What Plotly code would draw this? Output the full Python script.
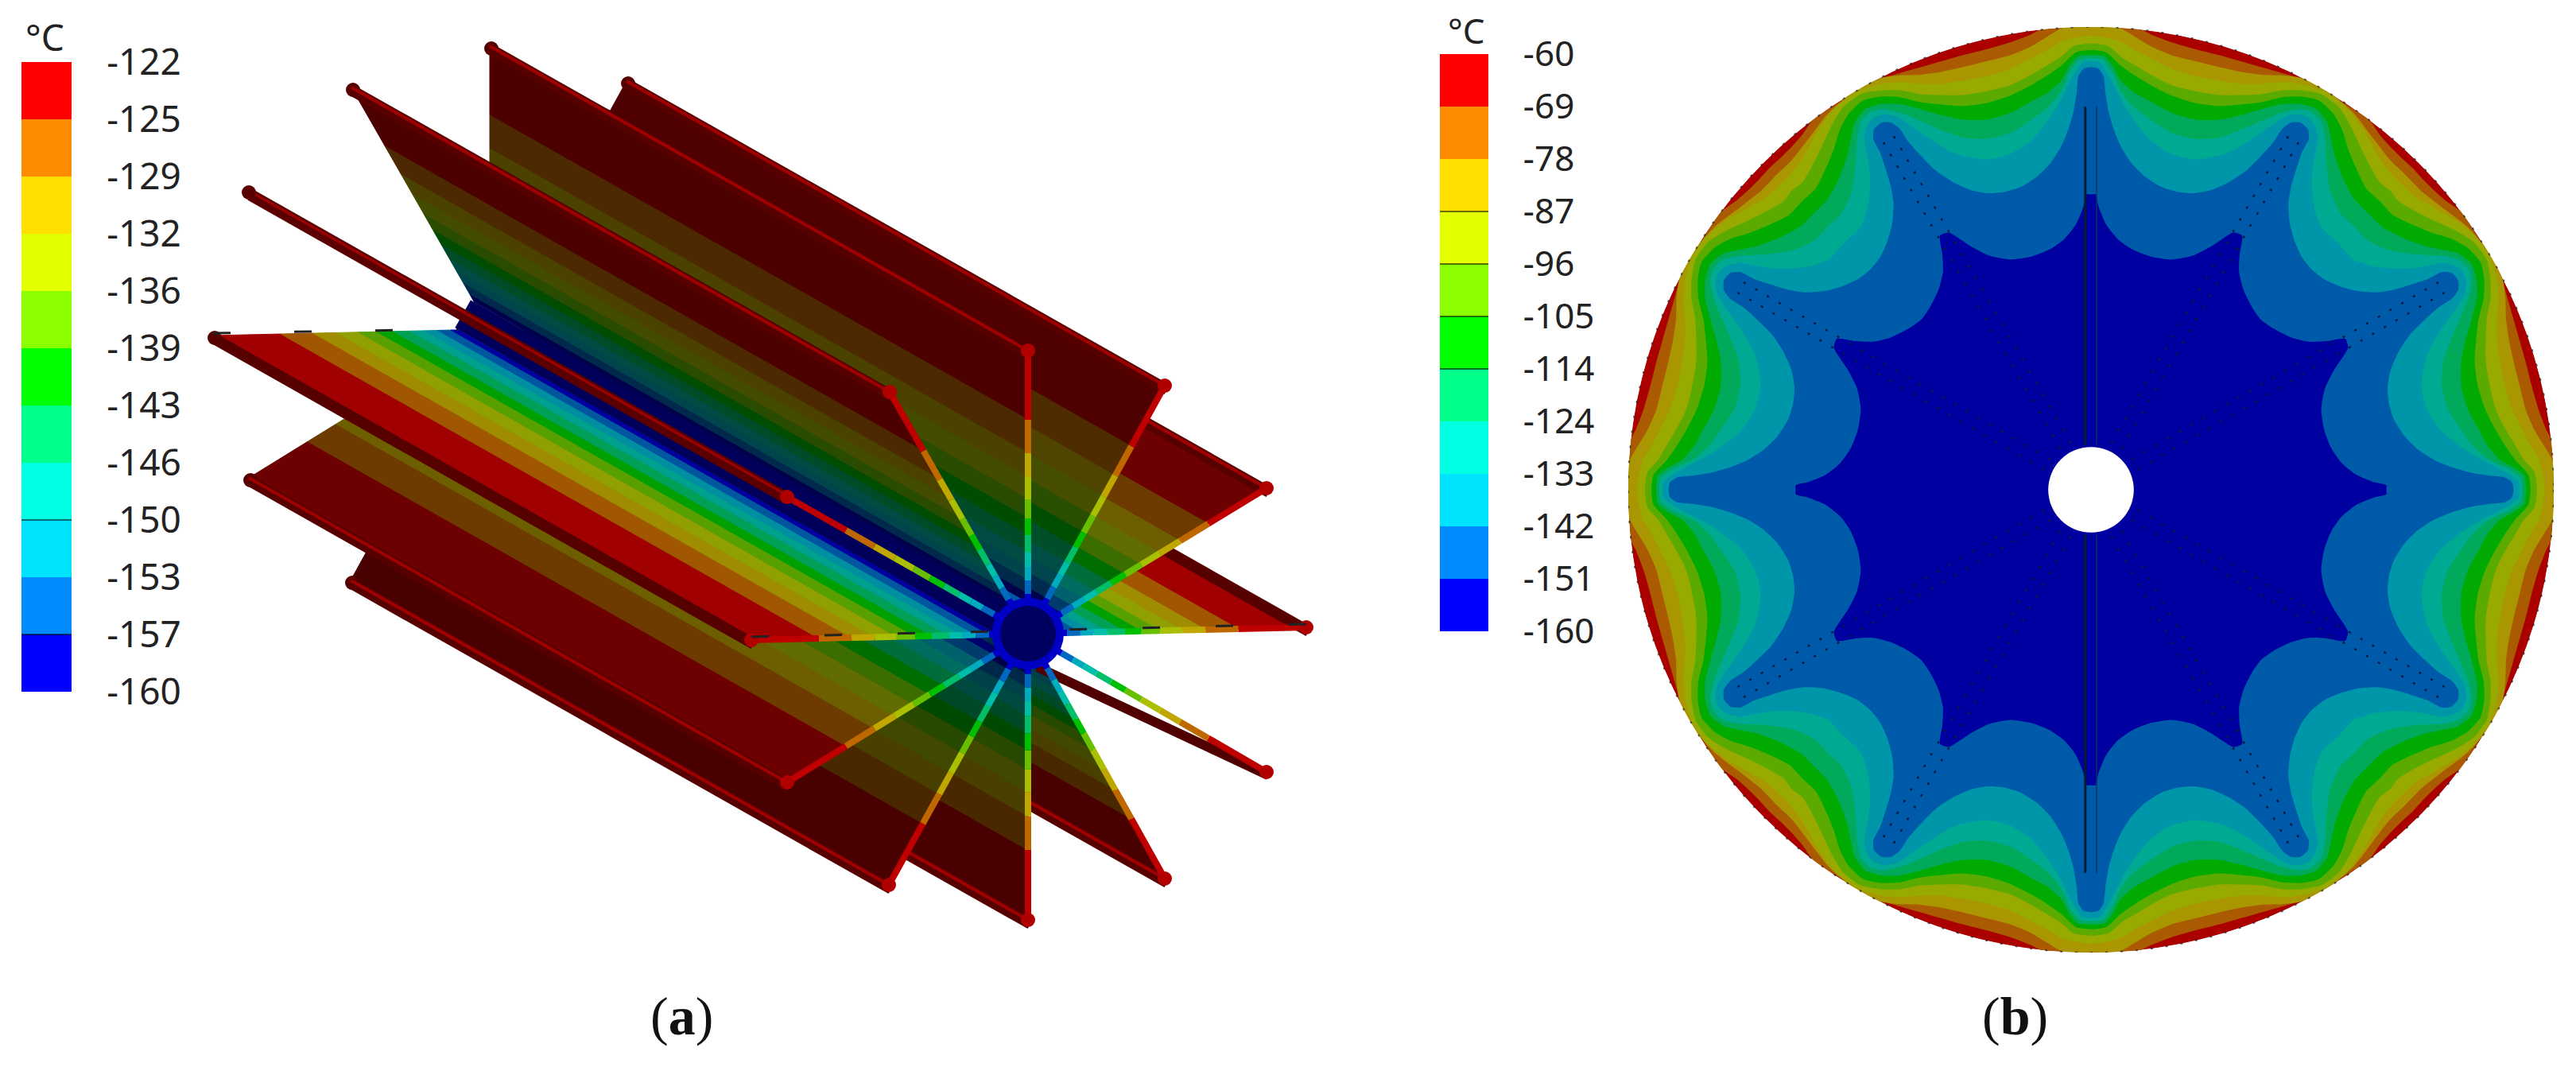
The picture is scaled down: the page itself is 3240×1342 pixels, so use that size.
import plotly.graph_objects as go

W, H = 3240, 1342
PAGE = 8  # the page body keeps this margin, the figure starts there
FIG_W, FIG_H = W - 2 * PAGE, H - 2 * PAGE

# colour bar values, top to bottom
labels_a = ['-122', '-125', '-129', '-132', '-136', '-139', '-143', '-146', '-150', '-153', '-157', '-160']
labels_b = ['-60', '-69', '-78', '-87', '-96', '-105', '-114', '-124', '-133', '-142', '-151', '-160']
band_colors = ['#ff0000', '#ff8b00', '#ffdf00', '#e3ff00', '#8bff00', '#00ff00',
               '#00ff8b', '#00ffe3', '#00e3ff', '#008bff', '#0000ff']
dark_ticks_a = ['-150', '-157']
dark_ticks_b = ['-87', '-96', '-105', '-114']

# (a) fins: front tip of each fin, its shade, in drawing order
fin_names = ['down_right', 'bottom', 'down_left', 'left_down', 'left',
             'right', 'right_up', 'up_right', 'top', 'up_left']
tip_x = dict(top=1293, up_right=1465, right_up=1593, right=1643, right_down=1593, down_right=1465,
             bottom=1293, down_left=1118, left_down=990, left=945, left_up=990, up_left=1119)
tip_y = dict(top=441, up_right=485, right_up=614, right=789, right_down=971, down_right=1105,
             bottom=1157, down_left=1113, left_down=984, left=805, left_up=625, up_left=493)
fin_shade = dict(down_right=.29, bottom=.29, down_left=.29, left_down=.43, left=.63,
                 right=.63, right_up=.43, up_right=.31, top=.30, up_left=.30)
no_stripe = ['left', 'right']
hub_x, hub_y = 1293, 797
depth_x, depth_y = -677, -383  # how far the fins run back
# distance from the hub where each colour starts, on the top fin (tip at 356)
band_start = [269, 227, 197, 169, 145, 124, 102, 84, 67, 50, 40]
band_end = [356, 269, 227, 197, 169, 145, 124, 102, 84, 67, 50]
fin_len = 356

# (b) contours in one 45 degree wedge: u across, v down, picture units, from the top fin to the diagonal
c1 = [(0, 570), (15, 570), (25, 610), (50, 670), (90, 720), (140, 755), (200, 778), (270, 788), (340, 775),
      (400, 745), (445, 715), (475, 698), (505, 708), (497, 770), (495, 830), (510, 890), (540, 950), (568, 989)]
c2 = [(0, 145), (25, 150), (42, 175), (48, 230), (58, 290), (75, 350), (100, 410), (135, 465), (180, 510),
      (235, 545), (290, 562), (345, 566), (400, 556), (460, 530), (520, 490), (570, 440), (610, 395), (640, 350),
      (668, 330), (700, 330), (725, 352), (728, 385), (705, 430), (685, 490), (670, 540), (660, 600), (665, 670),
      (682, 730), (705, 780), (737, 820)]
c3 = [(0, 125), (28, 128), (55, 165), (80, 210), (110, 270), (150, 330), (200, 390), (270, 435), (350, 453),
      (440, 438), (500, 410), (560, 370), (610, 335), (650, 310), (690, 302), (725, 312), (750, 345), (758, 385),
      (748, 440), (740, 500), (740, 560), (748, 620), (770, 680), (825, 732)]
c4 = [(0, 114), (40, 120), (70, 160), (100, 225), (140, 275), (200, 320), (270, 365), (350, 385), (430, 380),
      (500, 355), (570, 325), (630, 300), (690, 285), (735, 293), (768, 325), (782, 380), (785, 440), (790, 500),
      (800, 560), (835, 635), (880, 677)]
c5 = [(0, 104), (45, 108), (75, 145), (100, 190), (145, 230), (200, 260), (270, 298), (350, 320), (430, 320),
      (500, 305), (570, 285), (640, 268), (700, 268), (755, 285), (790, 330), (802, 380), (815, 440), (840, 510),
      (880, 585), (925, 632)]
c6 = [(0, 88), (50, 95), (100, 140), (150, 175), (200, 205), (270, 240), (350, 265), (430, 275), (500, 270),
      (570, 262), (640, 245), (700, 243), (760, 255), (810, 300), (840, 355), (860, 420), (885, 480), (920, 550),
      (965, 592)]
c7 = [(0, 66), (60, 75), (100, 110), (150, 140), (200, 170), (270, 205), (350, 225), (430, 238), (500, 238),
      (570, 235), (640, 222), (700, 222), (770, 235), (830, 280), (870, 345), (900, 410), (935, 480), (965, 530),
      (1000, 557)]
c8 = [(0, 40), (60, 48), (100, 60), (150, 90), (200, 115), (270, 150), (350, 175), (430, 190), (500, 200),
      (570, 200), (640, 195), (700, 200), (780, 225), (850, 275), (905, 345), (945, 415), (985, 480), (1030, 527)]
c9 = [(0, 11), (95, 14), (150, 45), (200, 75), (270, 105), (350, 125), (430, 145), (500, 160), (570, 170),
      (640, 172), (700, 180), (745, 200), (816, 243), (880, 300), (945, 385), (1000, 455), (1052, 505)]
c10 = [(0, 11), (100, 14), (170, 20), (200, 35), (270, 62), (350, 85), (430, 105), (500, 125), (570, 145),
       (640, 165), (730, 193), (830, 255), (930, 321), (965, 370), (1000, 410), (1040, 450), (1075, 482)]
contours = [c10, c9, c8, c7, c6, c5, c4, c3, c2, c1]
contour_colors = ['#aa5a00', '#aa9600', '#98aa00', '#5aaa00', '#00aa00', '#00aa5a', '#00aa92', '#0096aa', '#005aaa', '#0000a0']
v_center = 1557.6
rim = 1547  # picture units
fin_angles = [30, 60, 120, 150, 210, 240, 300, 330]


def shade(col, f):
    r, g, b = int(col[1:3], 16), int(col[3:5], 16), int(col[5:7], 16)
    return 'rgb(%d,%d,%d)' % (r * f, g * f, b * f)


def full_loop(pts):
    # wedge -> quarter -> whole curve, the field repeats by mirror
    q = [(u, v_center - v) for u, v in pts]
    q = q + [(y, x) for x, y in q[::-1][1:]]
    loop = q + [(x, -y) for x, y in q[::-1]] + [(-x, -y) for x, y in q] + [(-x, y) for x, y in q[::-1]]
    return [p[0] for p in loop], [p[1] for p in loop]


def dom_x(x0, x1):
    return [(x0 - PAGE) / FIG_W, (x1 - PAGE) / FIG_W]


def dom_y(y0, y1):
    return [1 - (y1 - PAGE) / FIG_H, 1 - (y0 - PAGE) / FIG_H]


fig = go.Figure()

# (a) fin faces, back to front
for name in fin_names:
    tx, ty = tip_x[name] - hub_x, tip_y[name] - hub_y
    for col, r0, r1 in zip(band_colors, band_start, band_end):
        f0, f1 = r0 / fin_len, r1 / fin_len
        ax, ay = hub_x + f0 * tx, hub_y + f0 * ty
        bx, by = hub_x + f1 * tx, hub_y + f1 * ty
        c = shade(col, fin_shade[name])
        fig.add_trace(go.Scatter(x=[ax, bx, bx + depth_x, ax + depth_x, ax],
                                 y=[ay, by, by + depth_y, ay + depth_y, ay],
                                 mode='lines', fill='toself', fillcolor=c, line=dict(color=c, width=1)))
    # the bead along the outer edge
    ex, ey = tip_x[name], tip_y[name]
    fig.add_trace(go.Scatter(x=[ex + 3, ex + depth_x + 3], y=[ey + 5, ey + depth_y + 5], mode='lines',
                             line=dict(color='#560000', width=14)))
    fig.add_trace(go.Scatter(x=[ex + depth_x + 2], y=[ey + depth_y + 3], mode='markers',
                             marker=dict(color='#560000', size=18)))
    if name not in no_stripe:
        fig.add_trace(go.Scatter(x=[ex, ex + depth_x], y=[ey, ey + depth_y], mode='lines',
                                 line=dict(color='#a00000', width=4)))

# black dashes on the back edge of the left fin
fig.add_trace(go.Scatter(x=[tip_x['left'] + depth_x, hub_x + depth_x - 40],
                         y=[tip_y['left'] + depth_y - 3, hub_y + depth_y],
                         mode='lines', line=dict(color='#222222', width=3, dash='22px,80px')))

# hub running back, then the edge-on fin
fig.add_trace(go.Scatter(x=[hub_x, hub_x + 1.05 * depth_x], y=[hub_y, hub_y + 1.05 * depth_y], mode='lines',
                         line=dict(color='#00005a', width=40)))
lx, ly = tip_x['left_up'], tip_y['left_up']
fig.add_trace(go.Scatter(x=[lx + 2, lx + depth_x + 2], y=[ly + 3, ly + depth_y + 3], mode='lines',
                         line=dict(color='#5a0000', width=15)))
fig.add_trace(go.Scatter(x=[lx, lx + depth_x], y=[ly - 2, ly + depth_y - 2], mode='lines',
                         line=dict(color='#a00000', width=3)))
fig.add_trace(go.Scatter(x=[lx + depth_x], y=[ly + depth_y], mode='markers', marker=dict(color='#5a0000', size=18)))
rx, ry = tip_x['right_down'], tip_y['right_down']
fig.add_trace(go.Scatter(x=[hub_x + 12, rx + 2], y=[hub_y + 42, ry + 4], mode='lines',
                         line=dict(color='#500000', width=12)))

# front face spokes
for name in tip_x:
    tx, ty = tip_x[name] - hub_x, tip_y[name] - hub_y
    for col, r0, r1 in zip(band_colors, band_start, band_end):
        f0, f1 = r0 / fin_len, r1 / fin_len
        if col == '#0000ff':
            c = shade(col, .8)
        else:
            c = shade(col, .75)
        fig.add_trace(go.Scatter(x=[hub_x + f0 * tx, hub_x + f1 * tx], y=[hub_y + f0 * ty, hub_y + f1 * ty],
                                 mode='lines', line=dict(color=c, width=8)))
    fig.add_trace(go.Scatter(x=[tip_x[name]], y=[tip_y[name]], mode='markers',
                             marker=dict(color='#b00000', size=18)))

for name in ['left', 'right']:
    fig.add_trace(go.Scatter(x=[tip_x[name], hub_x], y=[tip_y[name] - 4, hub_y - 4], mode='lines',
                             line=dict(color='#222222', width=3, dash='22px,70px')))

fig.add_trace(go.Scatter(x=[hub_x], y=[hub_y], mode='markers', marker=dict(color='#0000c4', size=90)))
fig.add_trace(go.Scatter(x=[hub_x], y=[hub_y], mode='markers', marker=dict(color='#000060', size=70)))

# (b) temperature field, outermost band first
for pts, col in zip(contours, contour_colors):
    xs, ys = full_loop(pts)
    fig.add_trace(go.Scatter(x=xs, y=ys, xaxis='x4', yaxis='y4', mode='lines', fill='toself', fillcolor=col,
                             line=dict(color=col, width=0, shape='spline', smoothing=0.6)))

# fin outlines inside the field, dotted
for a in fin_angles:
    sx, sy = {30: .5, 60: .866, 120: .866, 150: .5, 210: -.5, 240: -.866, 300: -.866, 330: -.5}[a], \
             {30: .866, 60: .5, 120: -.5, 150: -.866, 210: -.866, 240: -.5, 300: .5, 330: .866}[a]
    for off in [-20, 20]:
        fig.add_trace(go.Scatter(x=[170 * sx + off * sy, 1370 * sx + off * sy],
                                 y=[170 * sy - off * sx, 1370 * sy - off * sx],
                                 xaxis='x4', yaxis='y4', mode='lines',
                                 line=dict(color='#0a1a40', width=2.5, dash='3px,14px')))
for y0, y1 in [(150, 1280), (-150, -1280)]:
    fig.add_trace(go.Scatter(x=[-19, -19], y=[y0, y1], xaxis='x4', yaxis='y4', mode='lines',
                             line=dict(color='#0a1a30', width=3)))
    fig.add_trace(go.Scatter(x=[19, 19], y=[y0, y1], xaxis='x4', yaxis='y4', mode='lines',
                             line=dict(color='#0a3060', width=1.5)))

# colour bars as stacked bars on their own axes
for labels, dark, xa, ya in [(labels_a, dark_ticks_a, 'x2', 'y2'), (labels_b, dark_ticks_b, 'x3', 'y3')]:
    n = len(band_colors)
    fig.add_trace(go.Bar(x=[0] * n, y=[1] * n, base=list(range(n)), width=1, marker=dict(color=band_colors[::-1], line=dict(width=0)),
                         xaxis=xa, yaxis=ya))
    for lab in dark:
        k = labels[::-1].index(lab)
        fig.add_trace(go.Scatter(x=[-.5, .5], y=[k, k], mode='lines', xaxis=xa, yaxis=ya,
                                 line=dict(color='rgba(0,0,0,.55)', width=2)))


def bar_axes(x0, x1, y0, y1, labels, size, gap):
    xax = dict(domain=dom_x(x0, x1), range=[-.5, .5], visible=False, fixedrange=True, automargin=False)
    yax = dict(domain=dom_y(y0, y1), range=[0, 11], side='right', showgrid=False, zeroline=False,
               showline=False, tickvals=list(range(12)), ticktext=labels[::-1], ticks='outside', ticklen=gap,
               tickcolor='rgba(0,0,0,0)', automargin=False,
               tickfont=dict(family='Noto Sans', size=size, color='#222222'))
    return xax, yax


xa2, ya2 = bar_axes(27, 90, 78, 870, labels_a, 46, 34)
xa3, ya3 = bar_axes(1811, 1872, 68, 794, labels_b, 44, 34)
xa2['anchor'] = 'y2'
ya2['anchor'] = 'x2'
xa3['anchor'] = 'y3'
ya3['anchor'] = 'x3'

cx, cy, R = 2630, 616, 582
text_style = dict(showarrow=False, xref='x', yref='y')
fig.update_layout(
    width=FIG_W, height=FIG_H, margin=dict(l=0, r=0, t=0, b=0), showlegend=False, barmode='overlay',
    paper_bgcolor='white', plot_bgcolor='rgba(0,0,0,0)',
    xaxis=dict(domain=[0, 1], range=[PAGE, PAGE + FIG_W], visible=False, fixedrange=True, automargin=False),
    yaxis=dict(domain=[0, 1], range=[PAGE + FIG_H, PAGE], visible=False, fixedrange=True, automargin=False),
    xaxis2=xa2, yaxis2=ya2, xaxis3=xa3, yaxis3=ya3,
    xaxis4=dict(domain=dom_x(cx - R, cx + R), range=[-rim, rim], visible=False, anchor='y4', fixedrange=True, automargin=False),
    yaxis4=dict(domain=dom_y(cy - R, cy + R), range=[-rim, rim], visible=False, anchor='x4', fixedrange=True, automargin=False),
    shapes=[
        dict(type='circle', xref='x4', yref='y4', x0=-rim, x1=rim, y0=-rim, y1=rim, fillcolor='#aa0000', line=dict(width=0), layer='below'),
        dict(type='circle', xref='x4', yref='y4', x0=-rim - 30, x1=rim + 30, y0=-rim - 30, y1=rim + 30, line=dict(color='white', width=22), layer='above'),
        dict(type='circle', xref='x4', yref='y4', x0=-rim, x1=rim, y0=-rim, y1=rim, line=dict(color='rgba(30,30,30,.7)', width=2, dash='3px,16px'), layer='above'),
        dict(type='circle', xref='x4', yref='y4', x0=-143, x1=143, y0=-143, y1=143, fillcolor='white', line=dict(width=0), layer='above'),
    ],
    annotations=[
        dict(x=56, y=46, text='°C', font=dict(family='Noto Sans', size=46, color='#222222'), **text_style),
        dict(x=1844, y=38, text='°C', font=dict(family='Noto Sans', size=44, color='#222222'), **text_style),
        dict(x=857, y=1278, text='(<b>a</b>)', font=dict(family='Liberation Serif', size=68, color='#111111'), **text_style),
        dict(x=2534, y=1278, text='(<b>b</b>)', font=dict(family='Liberation Serif', size=68, color='#111111'), **text_style),
    ],
)

fig.write_html("out.html")
